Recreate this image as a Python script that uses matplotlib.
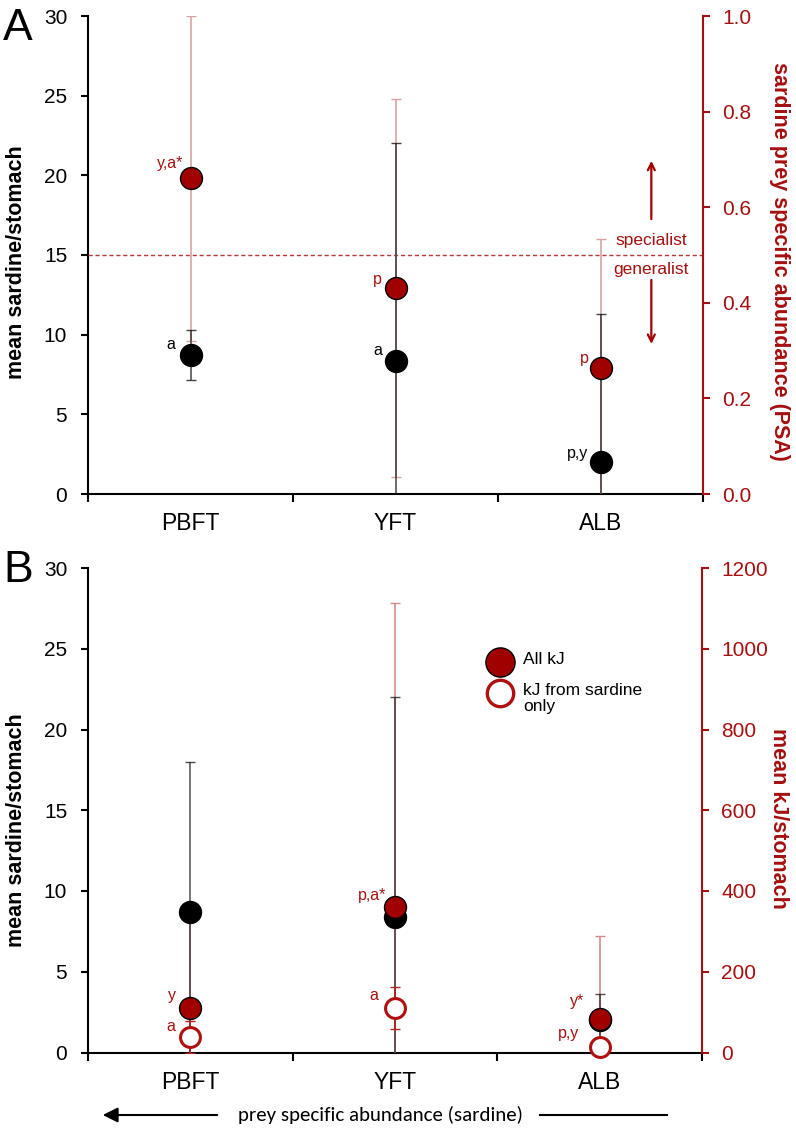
import matplotlib
matplotlib.use("Agg")
import matplotlib.pyplot as plt
from matplotlib.lines import Line2D
from matplotlib.patches import FancyArrowPatch

# ---------------- data ----------------
species = ["PBFT", "YFT", "ALB"]

# Panel A
a_sardine_mean = [8.72, 8.35, 2.0]
a_sardine_err = [1.55, 13.7, 9.3]
a_psa_mean = [0.661, 0.431, 0.264]
a_psa_err = [0.34, 0.395, 0.27]
a_sardine_labels = ["a", "a", "p,y"]
a_psa_labels = ["y,a*", "p", "p"]

# Panel B
b_sardine_mean = [8.68, 8.41, 2.0]
b_sardine_err = [9.3, 13.6, 1.6]
b_allkj_mean = [110, 360, 83]
b_allkj_err = [240, 753, 205]
b_sardkj_mean = [39, 110, 14]
b_sardkj_err = [40, 51, 12]
b_allkj_labels = ["y", "p,a*", "y*"]
b_sardkj_labels = ["a", "a", "p,y"]

legend_labels = ["All kJ", "kJ from sardine\nonly"]

psa_ticks = [0.0, 0.2, 0.4, 0.6, 0.8, 1.0]
kj_ticks = [0, 200, 400, 600, 800, 1000, 1200]
left_ticks = [0, 5, 10, 15, 20, 25, 30]

# ---------------- style ----------------
RED = "#a00000"
RED_TXT = "#a50f0f"
PINK = "#d9a3a3"
DARK = "#222222"
plt.rcParams["font.family"] = ["Liberation Sans", "DejaVu Sans"]

W, H = 796, 1132
fig = plt.figure(figsize=(W / 100, H / 100), dpi=100)

xpos = [i + 0.5 for i in range(len(species))]
MS = 15.8


def setup(ax, ax2, rticks, rlim, rfmt, rlabel, rlabel_y, llabel_y):
    ax.set_xlim(0, 3)
    ax.set_ylim(0, 30)
    ax2.set_ylim(*rlim)
    ax.set_yticks(left_ticks)
    ax2.set_yticks(rticks)
    ax2.set_yticklabels([rfmt(v) for v in rticks])
    ax.set_xticks([0, 1, 2, 3])
    ax.set_xticklabels([])
    ax.set_xticks(xpos, minor=True)
    ax.set_xticklabels(species, minor=True, fontsize=16.5)
    ax.tick_params(axis="x", which="minor", length=0, pad=13)
    ax.tick_params(axis="x", which="major", length=6, width=1.5, direction="out")
    ax.tick_params(axis="y", length=5, width=1.5, labelsize=15, pad=10)
    ax2.tick_params(axis="y", length=5, width=1.5, labelsize=15, pad=9,
                    colors=RED_TXT)
    for s in ["top", "right"]:
        ax.spines[s].set_visible(False)
    for s in ["top", "left", "bottom"]:
        ax2.spines[s].set_visible(False)
    ax.spines["left"].set_linewidth(1.5)
    ax.spines["bottom"].set_linewidth(1.5)
    ax2.spines["right"].set_linewidth(1.5)
    ax2.spines["right"].set_color(RED_TXT)
    ax.set_ylabel("mean sardine/stomach", fontsize=15.5, fontweight="bold")
    ax.yaxis.set_label_coords(-0.099, llabel_y)
    ax2.set_ylabel(rlabel, fontsize=15.5, fontweight="bold", color=RED_TXT,
                   rotation=270, va="center", ha="center")
    ax2.yaxis.set_label_coords(1.125, rlabel_y)


def ann(ax, x, y, text, dx, dy, color, fs=11.5):
    ax.annotate(text, xy=(x, y), xytext=(dx, dy), textcoords="offset pixels",
                ha="right", va="baseline", color=color, fontsize=fs)


# ================= Panel A =================
axA = fig.add_axes([88 / W, 1 - 494 / H, 615 / W, 478 / H])
axA2 = axA.twinx()
setup(axA, axA2, psa_ticks, (0, 1), lambda v: f"{v:.1f}",
      "sardine prey specific abundance (PSA)", 0.487, 0.485)

axA2.axhline(0.5, color="#b53a3a", lw=1.0, ls=(0, (3, 2)), zorder=1)
axA2.errorbar(xpos, a_psa_mean, yerr=a_psa_err, fmt="none", ecolor=PINK,
              elinewidth=1.2, capsize=3.5, capthick=1.0, zorder=2)
axA2.errorbar(xpos, a_sardine_mean, yerr=a_sardine_err, fmt="none",
              ecolor=DARK, elinewidth=1.1, capsize=3.5, capthick=1.0,
              alpha=0.85, zorder=3, transform=axA.transData)
axA2.plot(xpos, a_sardine_mean, "o", ms=MS, mfc="black", mec="black",
          zorder=4, transform=axA.transData, clip_on=False)
axA2.plot(xpos, a_psa_mean, "o", ms=MS, mfc=RED, mec="black", mew=1.0,
          zorder=5)

a_sard_off = [(-15, 6), (-13, 6), (-12, 4)]
a_psa_off = [(-7, 10), (-14, 4), (-12, 5)]
for x, y, t, (dx, dy) in zip(xpos, a_sardine_mean, a_sardine_labels, a_sard_off):
    ann(axA, x, y, t, dx, dy, "black")
for x, y, t, (dx, dy) in zip(xpos, a_psa_mean, a_psa_labels, a_psa_off):
    ann(axA2, x, y, t, dx, dy, RED_TXT)

axA2.text(2.748, 0.515, "specialist", ha="center", va="bottom",
          color=RED_TXT, fontsize=12.5)
axA2.text(2.748, 0.485, "generalist", ha="center", va="top",
          color=RED_TXT, fontsize=12.5)
arrow_kw = dict(arrowstyle="->,head_length=0.5,head_width=0.25", color=RED,
                lw=1.6, shrinkA=0, shrinkB=0)
axA2.annotate("", xy=(2.748, 0.697), xytext=(2.748, 0.575), arrowprops=arrow_kw)
axA2.annotate("", xy=(2.748, 0.314), xytext=(2.748, 0.448), arrowprops=arrow_kw)

# ================= Panel B =================
axB = fig.add_axes([88 / W, 1 - 1052.5 / H, 614 / W, 484.5 / H])
axB2 = axB.twinx()
setup(axB, axB2, kj_ticks, (0, 1200), lambda v: f"{v:d}",
      "mean kJ/stomach", 0.484, 0.459)

axB2.errorbar(xpos, b_allkj_mean, yerr=b_allkj_err, fmt="none", ecolor="#d88a8a",
              elinewidth=1.2, capsize=3.5, capthick=1.0, zorder=2)
axB2.errorbar(xpos, b_sardine_mean, yerr=b_sardine_err, fmt="none",
              ecolor=DARK, elinewidth=1.1, capsize=3.5, capthick=1.0,
              alpha=0.8, zorder=3, transform=axB.transData)
axB2.errorbar(xpos, b_sardkj_mean, yerr=b_sardkj_err, fmt="none",
              ecolor="#b02020", elinewidth=1.1, capsize=3.5, capthick=1.0,
              zorder=3)
axB2.plot(xpos, b_sardine_mean, "o", ms=MS, mfc="black", mec="black",
          zorder=4, transform=axB.transData)
axB2.plot(xpos, b_allkj_mean, "o", ms=MS, mfc=RED, mec="black", mew=1.0,
          zorder=5)
axB2.plot(xpos, b_sardkj_mean, "o", ms=MS - 1.5, mfc="white", mec="#b01010",
          mew=2.2, zorder=5, clip_on=False)

b_all_off = [(-14, 8), (-9, 7), (-15, 13)]
b_sard_off = [(-15, 6), (-17, 8), (-20, 9)]
for x, y, t, (dx, dy) in zip(xpos, b_allkj_mean, b_allkj_labels, b_all_off):
    ann(axB2, x, y, t, dx, dy, RED_TXT)
for x, y, t, (dx, dy) in zip(xpos, b_sardkj_mean, b_sardkj_labels, b_sard_off):
    ann(axB2, x, y, t, dx, dy, RED_TXT)

# legend (placed manually in figure pixels)
leg_x_marker, leg_x_text = 500, 523
leg_rows_y = [662, 693]
leg_styles = [dict(mfc=RED, mec="black", mew=1.0, ms=21),
              dict(mfc="white", mec="#b01010", mew=2.4, ms=19)]
for yy, lab, st in zip(leg_rows_y, legend_labels, leg_styles):
    fig.add_artist(Line2D([leg_x_marker / W], [1 - yy / H], ls="none",
                          marker="o", transform=fig.transFigure, **st))
    fig.text(leg_x_text / W, 1 - (yy - 10) / H, lab, ha="left", va="top",
             fontsize=12.5, linespacing=1.1)

# panel letters
fig.text(3 / W, 1 - 40 / H, "A", fontsize=32, ha="left", va="baseline")
fig.text(3 / W, 1 - 582 / H, "B", fontsize=32, ha="left", va="baseline")

# bottom direction arrow
fy = 1 - 1115 / H
fig.text(380 / W, fy, "prey specific abundance (sardine)", ha="center",
         va="center", fontsize=15, family=["Carlito", "Lato", "DejaVu Sans"])
fig.add_artist(Line2D([540 / W, 667 / W], [fy, fy], color="black", lw=1.5,
                      transform=fig.transFigure))
fig.patches.append(FancyArrowPatch(
    (220 / W, fy), (100 / W, fy), transform=fig.transFigure,
    arrowstyle="-|>,head_length=6,head_width=3", color="black", lw=1.5,
    mutation_scale=1.5))

fig.savefig("out.png", dpi=100)
